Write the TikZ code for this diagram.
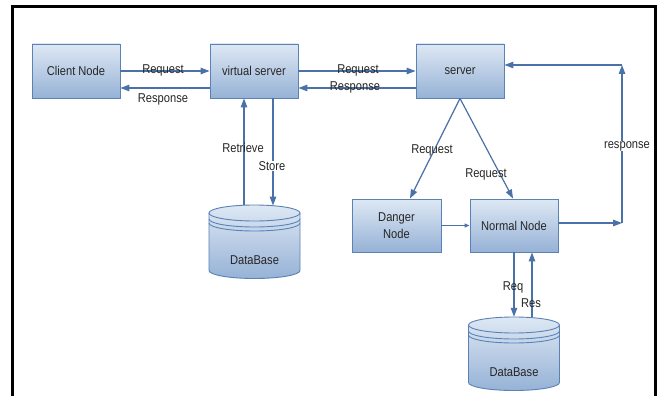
\documentclass[tikz,border=0pt]{standalone}
\usepackage{fontspec}
\setmainfont{Liberation Sans}[FakeStretch=0.87]
\usetikzlibrary{arrows.meta,calc}
\definecolor{boxline}{HTML}{5B82B5}
\definecolor{arrowc}{HTML}{4A72A8}
\definecolor{topc}{HTML}{DEE8F4}
\definecolor{botc}{HTML}{96B2D6}
\definecolor{txt}{HTML}{262626}
\tikzset{
  box/.style={draw=boxline, line width=0.9pt, top color=topc, bottom color=botc,
    minimum width=88pt, minimum height=54pt, inner sep=0pt, align=center,
    text=txt, font=\fontsize{12.8}{17}\selectfont},
  conn/.style={draw=arrowc, line width=1.2pt, -{Triangle[length=9pt,width=6.5pt]}},
  smallconn/.style={draw=arrowc, line width=1.2pt, -{Triangle[length=5pt,width=4pt]}},
  lbl/.style={text=txt, font=\fontsize{12.8}{13}\selectfont, inner sep=0.5pt},
  dbarea/.style={minimum width=91pt, inner sep=0pt},
  dbshape/.pic={
    \path[top color=topc, bottom color=botc] (-45.5,0) -- (-45.5,57.5)
      arc[start angle=180, end angle=360, x radius=45.5pt, y radius=8pt] -- (45.5,0)
      arc[start angle=0, end angle=180, x radius=45.5pt, y radius=8pt] -- cycle;
    \draw[boxline, line width=0.9pt] (-45.5,0) -- (-45.5,57.5)
      arc[start angle=180, end angle=360, x radius=45.5pt, y radius=8pt] -- (45.5,0);
    \draw[boxline, line width=0.9pt] (0,0) ellipse[x radius=45.5pt, y radius=8pt];
    \draw[boxline, line width=0.9pt] (-45.5,6)
      arc[start angle=180, end angle=360, x radius=45.5pt, y radius=8pt];
    \draw[boxline, line width=0.9pt] (-45.5,10)
      arc[start angle=180, end angle=360, x radius=45.5pt, y radius=8pt];
  }
}
\begin{document}
\begin{tikzpicture}[x=1pt,y=-1pt]
\useasboundingbox (0,0) rectangle (659,396);
\fill[white] (0,0) rectangle (659,396);
\draw[line width=3pt] (12.5,396) -- (12.5,6.3) -- (655,6.3) -- (655,396);

% boxes
\node[box] (client) at (76,71) {Client Node};
\node[box] (virtual) at (254,71) {virtual server};
\node[box] (server) at (460,71) {server};
\node[box, minimum width=89pt, minimum height=53pt] (danger) at (396.5,225.5) {Danger\\Node};
\node[box, minimum height=53pt] (normal) at (514,225.5) {Normal Node};

% databases
\pic at (254.5,213) {dbshape};
\node[dbarea, minimum height=73.3pt] (db1) at (254.5,241.65) {};
\node[lbl] (db1t) at (254.5,260) {DataBase};
\pic at (514,325) {dbshape};
\node[dbarea, minimum height=74.5pt] (db2) at (514,354.25) {};
\node[lbl] (db2t) at (514,372) {DataBase};

% client <-> virtual
\draw[conn] (client.east) -- (virtual.west);
\node[lbl] (l1) at (163,70) {Request};
\draw[conn] ($(virtual.west)+(0,17)$) -- ($(client.east)+(0,17)$);
\node[lbl] (l2) at (163,99) {Response};

% virtual <-> server
\draw[conn] (virtual.east) -- (server.west);
\node[lbl] (l3) at (358,70) {Request};
\draw[conn] ($(server.west)+(0,17)$) -- ($(virtual.east)+(0,17)$);
\node[lbl] (l4) at (355,87) {Response};

% virtual <-> db1
\draw[conn] ($(db1.north)+(-10.5,0.2)$) -- ($(virtual.south)+(-10,0)$);
\node[lbl] (l5) at (243,148) {Retrieve};
\draw[conn] ($(virtual.south)+(19,0)$) -- ($(db1.north)+(18.5,0.7)$);
\node[lbl, fill=white] (l6) at (272,166) {Store};

% server -> danger / normal
\draw[conn] (server.south) -- ($(danger.north)+(13.5,0)$);
\node[lbl] (l7) at (432,150) {Request};
\draw[conn] (server.south) -- ($(normal.north)+(-1,0)$);
\node[lbl] (l8) at (486,174) {Request};

% danger -> normal
\draw[smallconn] (danger.east) -- (normal.west);

% normal -> server response loop
\coordinate (c1) at (622,223);
\coordinate (c2) at (622,65);
\draw[conn] ($(normal.east)+(0,-2.5)$) -- (c1);
\draw[conn] (c1) -- (c2);
\draw[conn] (c2) -- ($(server.east)+(0,-6)$);
\node[lbl, fill=white] (l9) at (627,146) {response};

% normal <-> db2
\draw[conn] (normal.south) -- (db2.north);
\node[lbl] (l10) at (513,287) {Req};
\draw[conn] ($(db2.north)+(18,0.6)$) -- ($(normal.south)+(18,0)$);
\node[lbl] (l11) at (531,303) {Res};
\end{tikzpicture}
\end{document}
